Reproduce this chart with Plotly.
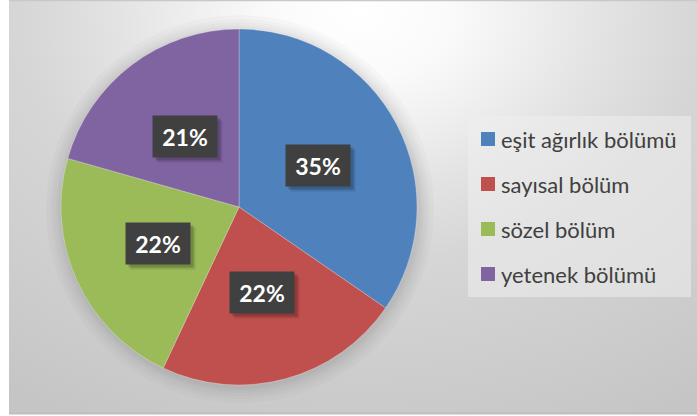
import math
import numpy as np
import plotly.graph_objects as go

W, H = 697, 416

labels = ["eşit ağırlık bölümü", "sayısal bölüm", "sözel bölüm", "yetenek bölümü"]
values = [34.6, 22.4, 22.4, 20.6]
colors = ["#4F81BD", "#C0504D", "#9BBB59", "#8064A2"]

# geometry (pixels)
PCX, PCY, PR = 239, 207, 178
CH_X0, CH_Y0, CH_X1, CH_Y1 = 9, 1, 697, 413

fig = go.Figure()

# background radial gradient (chart area), coordinates in pixels
gcx, gcy, grx, gry = 360, 10, 620, 460
fig.add_trace(go.Scatter(
    x=[gcx - grx, gcx + grx, gcx + grx, gcx - grx, gcx - grx],
    y=[gcy - gry, gcy - gry, gcy + gry, gcy + gry, gcy - gry],
    mode="lines", fill="toself", line=dict(width=0),
    fillgradient=dict(type="radial", colorscale=[
        [0, "#ffffff"], [0.15, "#fafafa"], [0.26, "#f0f0f0"], [0.39, "#e3e3e3"],
        [0.55, "#d6d6d6"], [0.9, "#c9c9c9"], [1, "#c5c5c5"]]),
    hoverinfo="skip", showlegend=False,
))

# soft shadow around the pie
th = np.linspace(0, 2 * np.pi, 181)
for extra in [16, 12, 9, 6, 4, 2]:
    r = PR + extra
    fig.add_trace(go.Scatter(
        x=PCX + 1 + r * np.cos(th), y=PCY + 2 + r * np.sin(th),
        mode="lines", fill="toself", line=dict(width=0),
        fillcolor="rgba(0,0,0,0.018)", hoverinfo="skip", showlegend=False,
    ))

fig.add_trace(go.Pie(
    labels=labels, values=values, sort=False, direction="clockwise", rotation=0,
    marker=dict(colors=colors, line=dict(width=0.5, color="rgba(255,255,255,0.5)")),
    textinfo="none", hoverinfo="label+percent", showlegend=False,
    domain=dict(x=[(PCX - PR) / W, (PCX + PR) / W],
                y=[1 - (PCY + PR) / H, 1 - (PCY - PR) / H]),
))

annotations = []
shapes = []

# data labels with shadows
total = sum(values)
cum = 0
for v in values:
    mid = (cum + v / 2) / total * 2 * math.pi
    cum += v
    t = f"{round(v / total * 100)}%"
    lx = PCX + 0.5 * PR * math.sin(mid)
    ly = PCY - 0.5 * PR * math.cos(mid)
    for off, a in [(5, 0.10), (3, 0.18)]:
        annotations.append(dict(x=lx + off, y=ly + off, xref="x", yref="y", text="",
                                showarrow=False, width=64, height=41, borderpad=0,
                                bgcolor=f"rgba(0,0,0,{a})"))
    annotations.append(dict(x=lx, y=ly, xref="x", yref="y", text=f"<b>{t}</b>",
                            showarrow=False, width=64, height=41, borderpad=0,
                            bgcolor="#404040",
                            font=dict(family="Lato", size=23, color="#ffffff")))

# legend
shapes.append(dict(type="rect", xref="x", yref="y", x0=468, x1=691, y0=116, y1=297,
                   fillcolor="rgba(238,238,238,0.55)", line=dict(width=0), layer="above"))
for i, (lab, c) in enumerate(zip(labels, colors)):
    yc = 139 + 45 * i
    shapes.append(dict(type="rect", xref="x", yref="y", x0=481, x1=495, y0=yc - 7, y1=yc + 7,
                       fillcolor=c, line=dict(width=0), layer="above"))
    annotations.append(dict(x=499, y=yc, xref="x", yref="y", text=lab, showarrow=False,
                            xanchor="left", yanchor="middle",
                            font=dict(family="Lato", size=22, color="#404040")))

# chart border lines
shapes.append(dict(type="line", xref="paper", yref="paper", x0=CH_X0 / W, x1=1,
                   y0=1 - 0.5 / H, y1=1 - 0.5 / H, line=dict(color="#c8c8c8", width=1.5)))
shapes.append(dict(type="line", xref="paper", yref="paper", x0=CH_X0 / W, x1=1,
                   y0=1 - 413.5 / H, y1=1 - 413.5 / H, line=dict(color="#bdbdbd", width=2)))

fig.update_layout(
    width=W, height=H, margin=dict(l=0, r=0, t=0, b=0),
    paper_bgcolor="#ffffff", plot_bgcolor="rgba(0,0,0,0)",
    xaxis=dict(domain=[CH_X0 / W, 1], range=[CH_X0, W], visible=False, fixedrange=True),
    yaxis=dict(domain=[1 - CH_Y1 / H, 1 - CH_Y0 / H], range=[CH_Y1, CH_Y0], visible=False,
               fixedrange=True),
    annotations=annotations, shapes=shapes, showlegend=False,
)

fig.write_html("out.html")
